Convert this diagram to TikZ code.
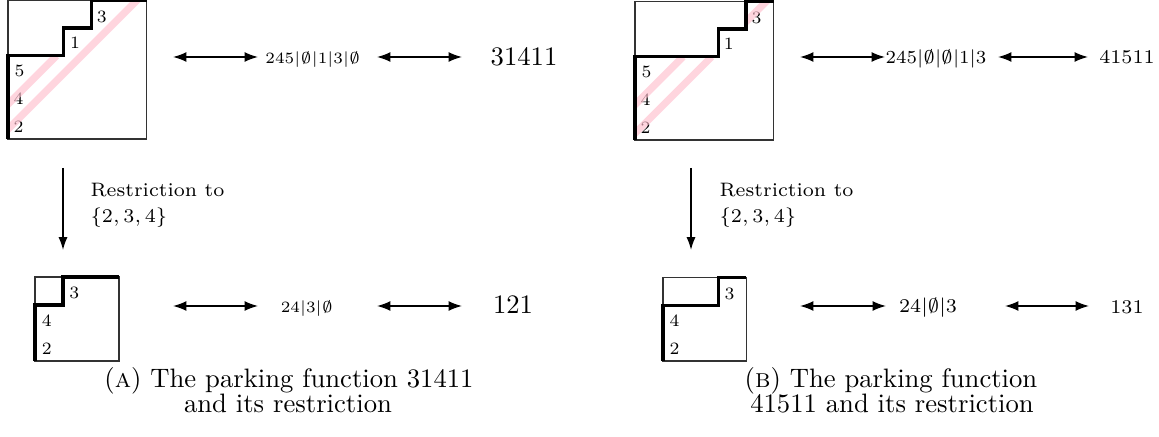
\RequirePackage{fix-cm}
\documentclass[tikz,border=0pt]{standalone}
\usepackage{fontspec}
\usetikzlibrary{arrows.meta}
\definecolor{bandpink}{RGB}{255,190,205}
\newcommand{\es}{\ensuremath{\emptyset}}
\begin{document}
\begin{tikzpicture}[x=0.375pt,y=-0.375pt,
  biarrow/.style={{Latex[length=5pt,width=3.7pt]}-{Latex[length=5pt,width=3.7pt]}, line width=0.55pt},
  downarrow/.style={-{Latex[length=4.8pt,width=3.4pt]}, line width=0.55pt},
  frame/.style={line width=0.45pt, draw=black!80},
  dyck/.style={line width=1.2pt, line join=miter},
  band/.style={line width=2.7pt, draw=bandpink, opacity=0.65},
  lab/.style={inner sep=0pt, font=\fontsize{6.5pt}{7pt}\selectfont},
  midA/.style={inner sep=0pt, anchor=base, font=\fontsize{5.9pt}{7pt}\selectfont},
  midB/.style={inner sep=0pt, anchor=base, font=\fontsize{6.9pt}{8pt}\selectfont},
  numA/.style={inner sep=0pt, anchor=base, font=\fontsize{10pt}{12pt}\selectfont},
  numB/.style={inner sep=0pt, anchor=base, font=\fontsize{7.3pt}{8.5pt}\selectfont},
  restr/.style={inner sep=0pt, anchor=base west, font=\fontsize{7.3pt}{9pt}\selectfont},
  captext/.style={inner sep=0pt, anchor=base, font=\fontsize{10pt}{12pt}\selectfont}
]
\useasboundingbox (0,0) rectangle (1159,437);

% ---------------- Panel A, top square
\begin{scope}[shift={(8,139)},x=10.4pt,y=10.4pt]
  \draw[frame] (0,0) rectangle (5,5);
  \node[lab] (At2) at (0.38,0.45) {2};
  \node[lab] (At4) at (0.38,1.45) {4};
  \node[lab] (At5) at (0.42,2.45) {5};
  \node[lab] (At1) at (2.42,3.47) {1};
  \node[lab] (At3) at (3.38,4.4) {3};
  \begin{scope}
    \clip (0,0) -- (0,3) -- (2,3) -- (2,4) -- (3,4) -- (3,5) -- (5,5) -- (5,0) -- cycle;
    \draw[band] (-0.5,-0.15) -- (5.2,5.55);
    \draw[band] (-0.5,0.75) -- (1.75,3);
  \end{scope}
  \draw[dyck] (0,0) -- (0,3) -- (2,3) -- (2,4) -- (3,4) -- (3,5) -- (5,5);
\end{scope}

% ---------------- Panel B, top square
\begin{scope}[shift={(635,140)},x=10.4pt,y=10.4pt]
  \draw[frame] (0,0) rectangle (5,5);
  \node[lab] (Bt2) at (0.38,0.45) {2};
  \node[lab] (Bt4) at (0.38,1.45) {4};
  \node[lab] (Bt5) at (0.42,2.45) {5};
  \node[lab] (Bt1) at (3.38,3.47) {1};
  \node[lab] (Bt3) at (4.38,4.4) {3};
  \begin{scope}
    \clip (0,0) -- (0,3) -- (3,3) -- (3,4) -- (4,4) -- (4,5) -- (5,5) -- (5,0) -- cycle;
    \draw[band] (-0.5,-0.26) -- (2.76,3);
    \draw[band] (3.8,4.06) -- (5.3,5.56);
    \draw[band] (-0.5,0.77) -- (1.73,3);
  \end{scope}
  \draw[dyck] (0,0) -- (0,3) -- (3,3) -- (3,4) -- (4,4) -- (4,5) -- (5,5);
\end{scope}

% ---------------- Panel A, bottom square
\begin{scope}[shift={(35,361)},x=10.5pt,y=10.5pt]
  \draw[frame] (0,0) rectangle (3,3);
  \node[lab] (Ab2) at (0.42,0.45) {2};
  \node[lab] (Ab4) at (0.42,1.45) {4};
  \node[lab] (Ab3) at (1.4,2.43) {3};
  \draw[dyck] (0,0) -- (0,2) -- (1,2) -- (1,3) -- (3,3);
\end{scope}

% ---------------- Panel B, bottom square
\begin{scope}[shift={(663,361)},x=10.4pt,y=10.4pt]
  \draw[frame] (0,0) rectangle (3,3);
  \node[lab] (Bb2) at (0.42,0.45) {2};
  \node[lab] (Bb4) at (0.42,1.45) {4};
  \node[lab] (Bb3) at (2.4,2.43) {3};
  \draw[dyck] (0,0) -- (0,2) -- (2,2) -- (2,3) -- (3,3);
\end{scope}

% ---------------- texts, top row
\node[midA] (Atw) at (313,64) {245|\es|1|3|\es};
\node[numA] (Atn) at (524,66) {31411};
\node[midB] (Btw) at (936,64) {245|\es|\es|1|3};
\node[numB] (Btn) at (1127,64) {41511};

% ---------------- texts, bottom row
\node[midA] (Abw) at (307,313) {24|3|\es};
\node[numA] (Abn) at (513,314) {121};
\node[midB, font=\fontsize{7.3pt}{8.5pt}\selectfont] (Bbw) at (928,313) {24|\es|3};
\node[numB] (Bbn) at (1127,314) {131};

% ---------------- arrows
\coordinate (Aa1l) at (173,57); \coordinate (Aa1r) at (258,57);
\coordinate (Aa2l) at (377,57); \coordinate (Aa2r) at (462,57);
\coordinate (Ba1l) at (800,57); \coordinate (Ba1r) at (885,57);
\coordinate (Ba2l) at (998,57); \coordinate (Ba2r) at (1088,57);
\coordinate (Ab1l) at (173,306); \coordinate (Ab1r) at (258,306);
\coordinate (Ab2l) at (377,306); \coordinate (Ab2r) at (462,306);
\coordinate (Bb1l) at (800,306); \coordinate (Bb1r) at (886,306);
\coordinate (Bb2l) at (1005,306); \coordinate (Bb2r) at (1089,306);
\draw[biarrow] (Aa1l) -- (Aa1r);
\draw[biarrow] (Aa2l) -- (Aa2r);
\draw[biarrow] (Ba1l) -- (Ba1r);
\draw[biarrow] (Ba2l) -- (Ba2r);
\draw[biarrow] (Ab1l) -- (Ab1r);
\draw[biarrow] (Ab2l) -- (Ab2r);
\draw[biarrow] (Bb1l) -- (Bb1r);
\draw[biarrow] (Bb2l) -- (Bb2r);

% ---------------- restriction arrows
\coordinate (Avt) at (63,168); \coordinate (Avb) at (63,250);
\coordinate (Bvt) at (691,168); \coordinate (Bvb) at (691,250);
\draw[downarrow] (Avt) -- (Avb);
\draw[downarrow] (Bvt) -- (Bvb);
\node[restr] (Ar1) at (90,197) {Restriction to};
\node[restr] (Ar2) at (90,223) {$\{2,3,4\}$};
\node[restr] (Br1) at (719,197) {Restriction to};
\node[restr] (Br2) at (719,223) {$\{2,3,4\}$};

% ---------------- captions
\node[captext] (capA1) at (289,388) {(\textsc{a}) The parking function 31411};
\node[captext] (capA2) at (288,413) {and its restriction};
\node[captext] (capB1) at (891,388) {(\textsc{b}) The parking function};
\node[captext] (capB2) at (892,413) {41511 and its restriction};
\end{tikzpicture}
\end{document}
